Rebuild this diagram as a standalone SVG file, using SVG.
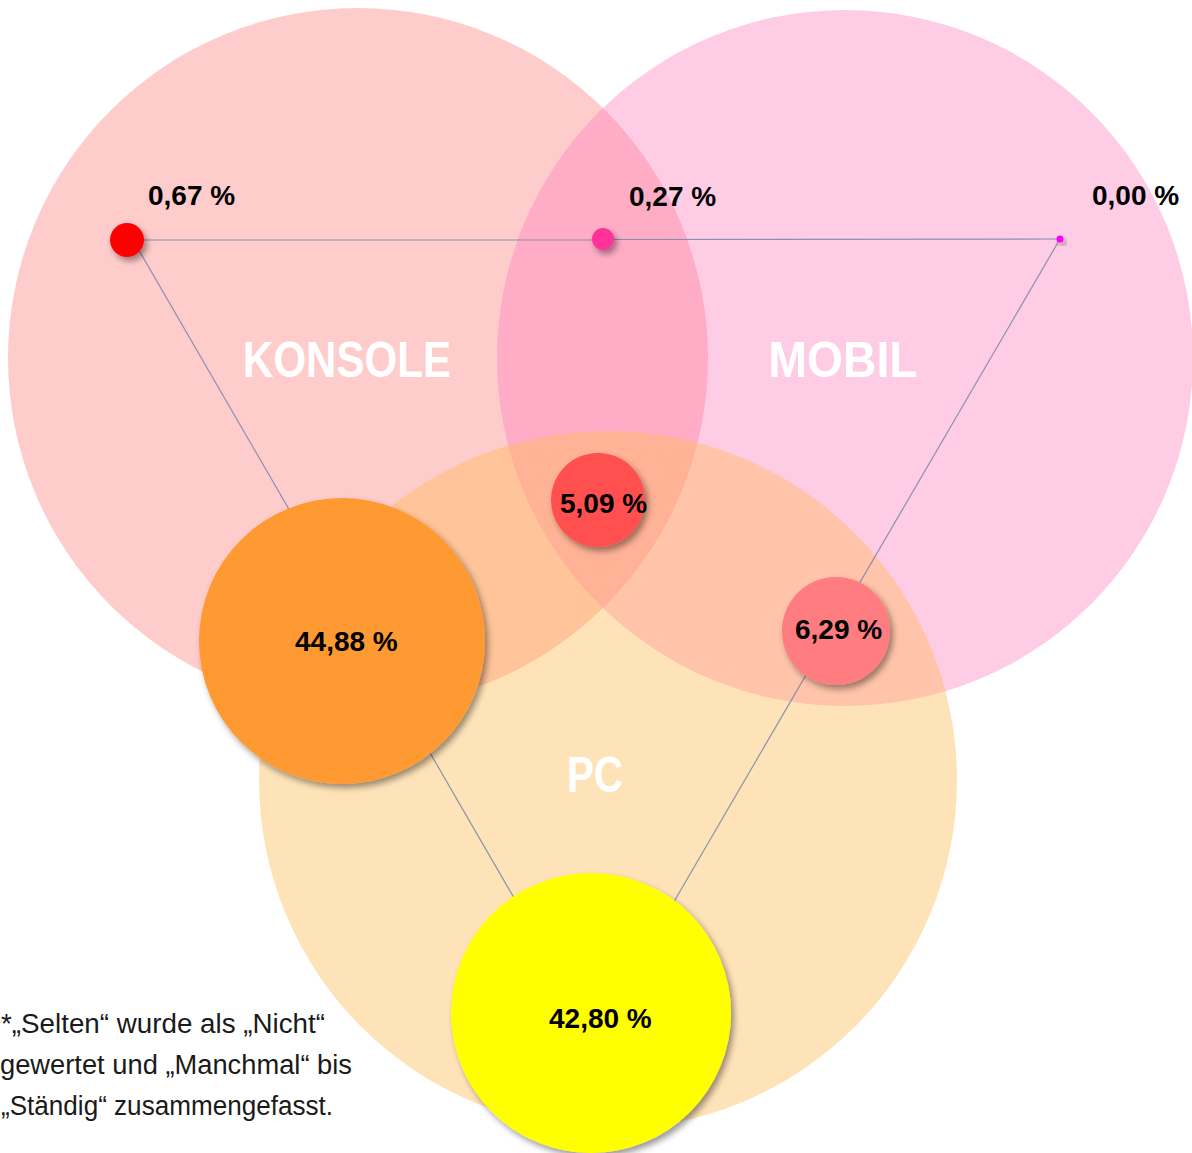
<svg xmlns="http://www.w3.org/2000/svg" width="1192" height="1153" viewBox="0 0 1192 1153">
  <defs>
    <filter id="shadow" x="-30%" y="-30%" width="170%" height="170%">
      <feDropShadow dx="3" dy="4" stdDeviation="3" flood-color="#000" flood-opacity="0.4"/>
    </filter>
    <style>
      .set { opacity: 0.4; }
      .setlabel { font-family: "Liberation Sans", Arial, sans-serif; font-weight: bold; font-size: 50px; fill: #ffffff; text-anchor: middle; }
      .pct { font-family: "Liberation Sans", Arial, sans-serif; font-weight: bold; font-size: 28px; fill: #000000; }
      .note { font-family: "Liberation Sans", Arial, sans-serif; font-size: 27px; fill: #1a1a1a; }
      .conn { stroke: #7585a8; stroke-width: 1.2; fill: none; opacity: 0.85; }
      .dot { filter: url(#shadow); }
    </style>
  </defs>
  <rect width="1192" height="1153" fill="#ffffff"/>

  <g id="set-konsole">
    <circle class="set" cx="358" cy="358" r="350" fill="#ff8080"/>
  </g>
  <g id="set-mobil">
    <circle class="set" cx="845" cy="358" r="348" fill="#ff80c0"/>
  </g>
  <g id="set-pc">
    <circle class="set" cx="608" cy="780" r="349" fill="#ffb84e"/>
  </g>

  <g id="set-labels">
    <text class="setlabel" x="347" y="377" textLength="208" lengthAdjust="spacingAndGlyphs">KONSOLE</text>
    <text class="setlabel" x="843" y="377" textLength="149" lengthAdjust="spacingAndGlyphs">MOBIL</text>
    <text class="setlabel" x="595" y="792" textLength="56" lengthAdjust="spacingAndGlyphs">PC</text>
  </g>

  <g id="connectors">
    <line class="conn" x1="127" y1="240" x2="604" y2="240"/>
    <line class="conn" x1="604" y1="239.5" x2="1060" y2="239"/>
    <line class="conn" x1="133" y1="240" x2="550" y2="960"/>
    <line class="conn" x1="1060" y1="239" x2="640" y2="960"/>
  </g>

  <g id="node-konsole-only">
    <circle class="dot" cx="127" cy="240" r="17" fill="#ff0000"/>
    <text class="pct" x="148" y="205">0,67 %</text>
  </g>
  <g id="node-konsole-mobil">
    <circle class="dot" cx="603" cy="239" r="11" fill="#ff3399"/>
    <text class="pct" x="629" y="206">0,27 %</text>
  </g>
  <g id="node-mobil-only">
    <circle class="dot" cx="1060" cy="239" r="3.5" fill="#ff00ff"/>
    <text class="pct" x="1092" y="205">0,00 %</text>
  </g>
  <g id="node-all">
    <circle class="dot" cx="598" cy="500" r="47" fill="#ff5050"/>
    <text class="pct" x="560" y="513">5,09 %</text>
  </g>
  <g id="node-mobil-pc">
    <circle class="dot" cx="836" cy="631" r="54" fill="#ff7c80"/>
    <text class="pct" x="795" y="639">6,29 %</text>
  </g>
  <g id="node-konsole-pc">
    <circle class="dot" cx="342" cy="641" r="143" fill="#ff9933"/>
    <text class="pct" x="295" y="651">44,88 %</text>
  </g>
  <g id="node-pc-only">
    <circle class="dot" cx="591" cy="1013" r="140" fill="#ffff00"/>
    <text class="pct" x="549" y="1028">42,80 %</text>
  </g>

  <g id="footnote">
    <text class="note" x="1" y="1033" textLength="324" lengthAdjust="spacingAndGlyphs">*„Selten“ wurde als „Nicht“</text>
    <text class="note" x="0" y="1074" textLength="352" lengthAdjust="spacingAndGlyphs">gewertet und „Manchmal“ bis</text>
    <text class="note" x="1" y="1115" textLength="332" lengthAdjust="spacingAndGlyphs">„Ständig“ zusammengefasst.</text>
  </g>
</svg>
